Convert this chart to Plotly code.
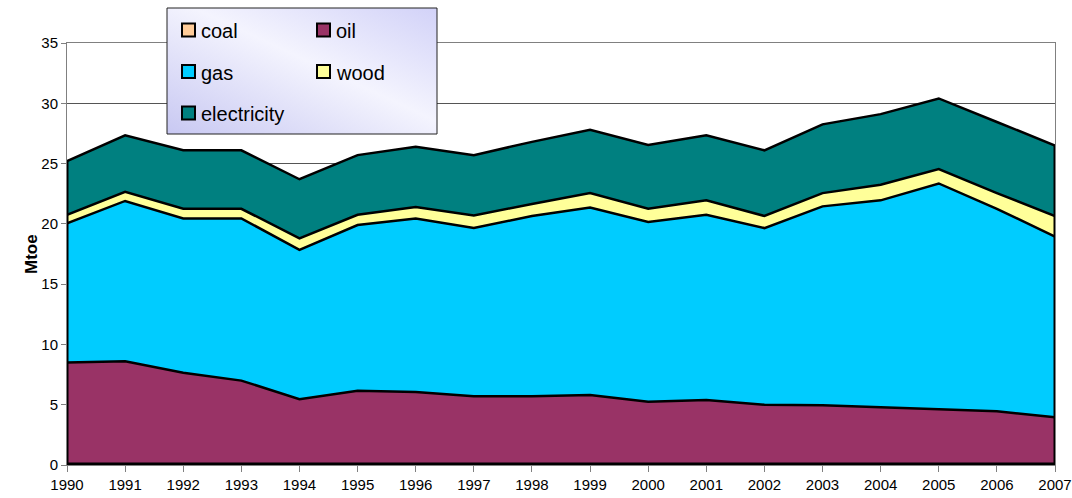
import plotly.graph_objects as go
import base64

# ---- data (Mtoe) ----
years = list(range(1990, 2008))
coal = [0.05] * 18
oil = [8.45, 8.55, 7.6, 6.95, 5.4, 6.1, 6.0, 5.65, 5.65, 5.75, 5.2, 5.35, 4.95, 4.9, 4.75, 4.6, 4.4, 3.9]
gas = [11.55, 13.3, 12.8, 13.45, 12.4, 13.75, 14.4, 13.95, 14.95, 15.55, 14.9, 15.35, 14.65, 16.5, 17.15, 18.7, 16.8, 15.0]
wood = [0.7, 0.75, 0.8, 0.8, 0.95, 0.85, 0.95, 1.05, 1.0, 1.2, 1.1, 1.2, 1.0, 1.1, 1.3, 1.2, 1.3, 1.7]
electricity = [4.45, 4.7, 4.85, 4.85, 4.9, 4.95, 5.0, 5.0, 5.15, 5.25, 5.3, 5.4, 5.45, 5.7, 5.85, 5.85, 5.9, 5.85]

series_names = ["coal", "oil", "gas", "wood", "electricity"]
series_values = [coal, oil, gas, wood, electricity]
series_colors = ["#FFCC99", "#993366", "#00CCFF", "#FFFF99", "#008080"]
series_line_widths = [4, 2.5, 2.5, 2.5, 2.5]
y_ticks = [0, 5, 10, 15, 20, 25, 30, 35]

# ---- layout geometry (pixels) ----
W, H = 1072, 498
L, R, T, B = 67, 17, 43, 33
PW, PH = W - L - R, H - T - B


def px_x(x):
    return (x - L) / PW


def px_y(y):
    return (H - B - y) / PH


fig = go.Figure()
for name, vals, col, lw in zip(series_names, series_values, series_colors, series_line_widths):
    fig.add_trace(go.Scatter(
        x=years, y=vals, name=name, mode="lines", stackgroup="one",
        fillcolor=col, line=dict(color="black", width=lw),
        showlegend=False, hoverinfo="x+y+name"))

totals = [sum(v) for v in zip(*series_values)]
for i in (0, -1):
    fig.add_trace(go.Scatter(x=[years[i], years[i]], y=[0, totals[i]], mode="lines",
                             line=dict(color="black", width=3), showlegend=False,
                             hoverinfo="skip"))

# legend background gradient
svg = ('<svg xmlns="http://www.w3.org/2000/svg" width="270" height="126">'
       '<defs><linearGradient id="g" x1="1" y1="0" x2="0" y2="1">'
       '<stop offset="0" stop-color="#d2d2f8"/><stop offset="0.45" stop-color="#f4f4fe"/>'
       '<stop offset="1" stop-color="#c8c8f2"/></linearGradient></defs>'
       '<rect width="270" height="126" fill="url(#g)"/></svg>')
src = "data:image/svg+xml;base64," + base64.b64encode(svg.encode()).decode()
lx0, lx1, ly0, ly1 = 167, 437, 8, 134
fig.add_layout_image(dict(source=src, xref="paper", yref="paper",
                          x=px_x(lx0), y=px_y(ly0), sizex=px_x(lx1) - px_x(lx0),
                          sizey=px_y(ly0) - px_y(ly1), sizing="stretch",
                          xanchor="left", yanchor="top", layer="above"))
shapes = [dict(type="rect", xref="paper", yref="paper", x0=px_x(lx0), x1=px_x(lx1),
               y0=px_y(ly1), y1=px_y(ly0), line=dict(color="#222222", width=1),
               fillcolor="rgba(0,0,0,0)", layer="above")]
annotations = []
slots = [(182, 30), (317, 30), (182, 71.5), (317, 71.5), (182, 113)]
for (sx, sy), name, col in zip(slots, series_names, series_colors):
    shapes.append(dict(type="rect", xref="paper", yref="paper",
                       x0=px_x(sx), x1=px_x(sx + 13), y0=px_y(sy + 6.5), y1=px_y(sy - 6.5),
                       fillcolor=col, line=dict(color="black", width=2), layer="above"))
    annotations.append(dict(text=name, xref="paper", yref="paper", x=px_x(sx + 17),
                            y=px_y(sy + 1), xanchor="left", yanchor="middle", showarrow=False,
                            font=dict(family="Liberation Sans, Arial", size=20, color="black")))

annotations.append(dict(text="<b>Mtoe</b>", xref="paper", yref="paper", x=px_x(31), y=px_y(254),
                        xanchor="center", yanchor="middle", textangle=-90, showarrow=False,
                        font=dict(family="Liberation Sans, Arial", size=17, color="black")))

fig.update_layout(
    template="none",
    width=W, height=H, margin=dict(l=L, r=R, t=T, b=B, pad=0, autoexpand=False),
    paper_bgcolor="white", plot_bgcolor="white",
    font=dict(family="Liberation Sans, Arial", size=15, color="black"),
    shapes=shapes, annotations=annotations,
    xaxis=dict(range=[years[0], years[-1]], tickmode="array", tickvals=years,
               ticktext=[str(y) for y in years], ticks="outside", ticklen=6,
               tickcolor="#808080", showgrid=False, showline=True, mirror=True,
               linecolor="#808080", linewidth=1, zeroline=False, automargin=False),
    yaxis=dict(range=[0, 35], tickmode="array", tickvals=y_ticks, ticks="outside",
               ticklen=5, tickcolor="#808080", showgrid=True, gridcolor="#555555",
               gridwidth=1, showline=True, mirror=True, linecolor="#808080",
               linewidth=1, zeroline=False, automargin=False),
)

fig.write_html("out.html", config={"displayModeBar": False},
               post_script="document.body.style.margin='0';document.body.style.overflow='hidden';")
